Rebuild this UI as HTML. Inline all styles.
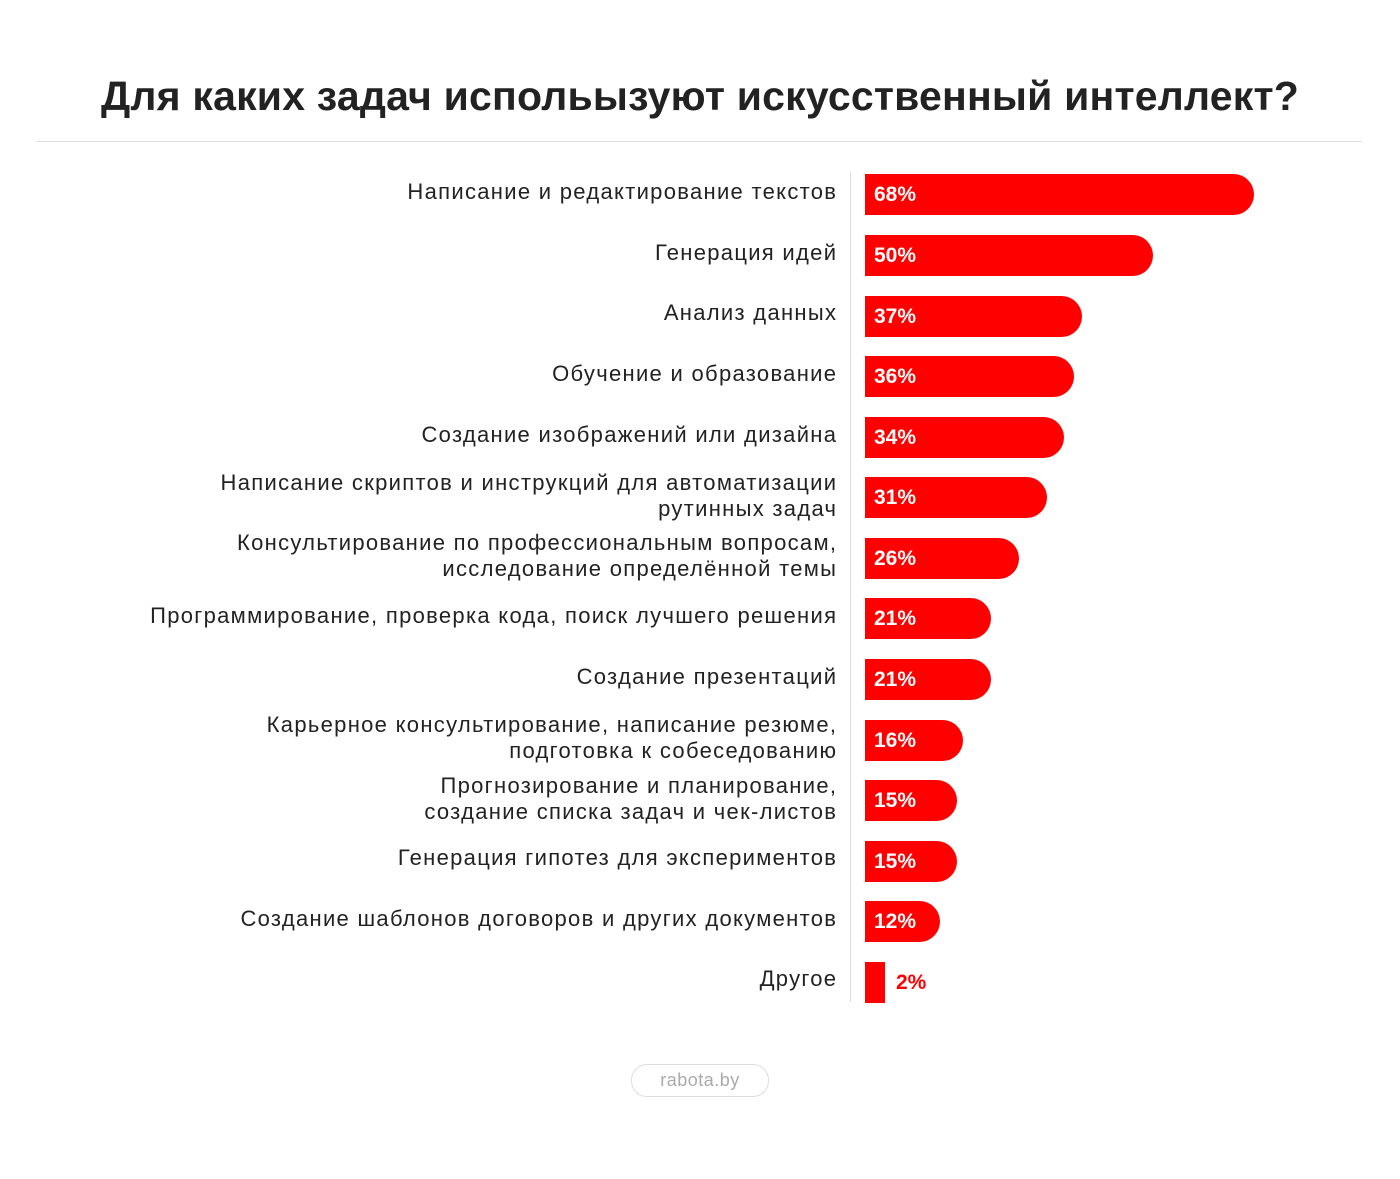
<!DOCTYPE html>
<html><head><meta charset="utf-8"><style>
body{margin:0;width:1400px;height:1179px;background:#fff;font-family:"Liberation Sans",sans-serif;position:relative;overflow:hidden}
.t{position:absolute;left:0;width:1400px;text-align:center;top:73px;font-size:41px;font-weight:bold;color:#222;letter-spacing:0.2px}
.sep{position:absolute;left:37px;width:1325px;top:141px;height:1px;background:#ddd}
.ax{position:absolute;left:850px;top:172px;width:1px;height:830px;background:#ddd}
.lab{position:absolute;right:564px;font-size:22px;color:#222;text-align:right;line-height:26px;white-space:nowrap;letter-spacing:1.3px;margin-right:-1.3px}
.bar{position:absolute;left:865px;height:41px;background:#f00;border-radius:0 21px 21px 0;color:#fff;font-weight:bold;font-size:21px;line-height:41px;box-sizing:border-box;padding-left:9px}
.pill{position:absolute;left:631px;top:1064px;width:136px;height:31px;border:1px solid #ddd;border-radius:16px;text-align:center;line-height:31px;color:#aaa;font-size:18px;letter-spacing:0.5px}
</style></head><body>
<div class="t">Для каких задач испольызуют искусственный интеллект?</div>
<div class="sep"></div>
<div class="ax"></div>

<div class="lab" style="top:179px">Написание и редактирование текстов</div>
<div class="bar" style="top:174px;width:389px">68%</div>

<div class="lab" style="top:240px">Генерация идей</div>
<div class="bar" style="top:235px;width:288px">50%</div>

<div class="lab" style="top:300px">Анализ данных</div>
<div class="bar" style="top:296px;width:217px">37%</div>

<div class="lab" style="top:361px">Обучение и образование</div>
<div class="bar" style="top:356px;width:209px">36%</div>

<div class="lab" style="top:422px">Создание изображений или дизайна</div>
<div class="bar" style="top:417px;width:199px">34%</div>

<div class="lab" style="top:470px">Написание скриптов и инструкций для автоматизации<br>рутинных задач</div>
<div class="bar" style="top:477px;width:182px">31%</div>

<div class="lab" style="top:530px">Консультирование по профессиональным вопросам,<br>исследование определённой темы</div>
<div class="bar" style="top:538px;width:154px">26%</div>

<div class="lab" style="top:603px">Программирование, проверка кода, поиск лучшего решения</div>
<div class="bar" style="top:598px;width:126px">21%</div>

<div class="lab" style="top:664px">Создание презентаций</div>
<div class="bar" style="top:659px;width:126px">21%</div>

<div class="lab" style="top:712px">Карьерное консультирование, написание резюме,<br>подготовка к собеседованию</div>
<div class="bar" style="top:720px;width:98px">16%</div>

<div class="lab" style="top:773px">Прогнозирование и планирование,<br>создание списка задач и чек-листов</div>
<div class="bar" style="top:780px;width:92px">15%</div>

<div class="lab" style="top:845px">Генерация гипотез для экспериментов</div>
<div class="bar" style="top:841px;width:92px">15%</div>

<div class="lab" style="top:906px">Создание шаблонов договоров и других документов</div>
<div class="bar" style="top:901px;width:75px">12%</div>

<div class="lab" style="top:966px">Другое</div>
<div class="bar" style="top:962px;width:20px;border-radius:0;padding:0"></div>
<div style="position:absolute;left:896px;top:962px;line-height:41px;color:#f00;font-weight:bold;font-size:21px">2%</div>

<div class="pill">rabota.by</div>
</body></html>
